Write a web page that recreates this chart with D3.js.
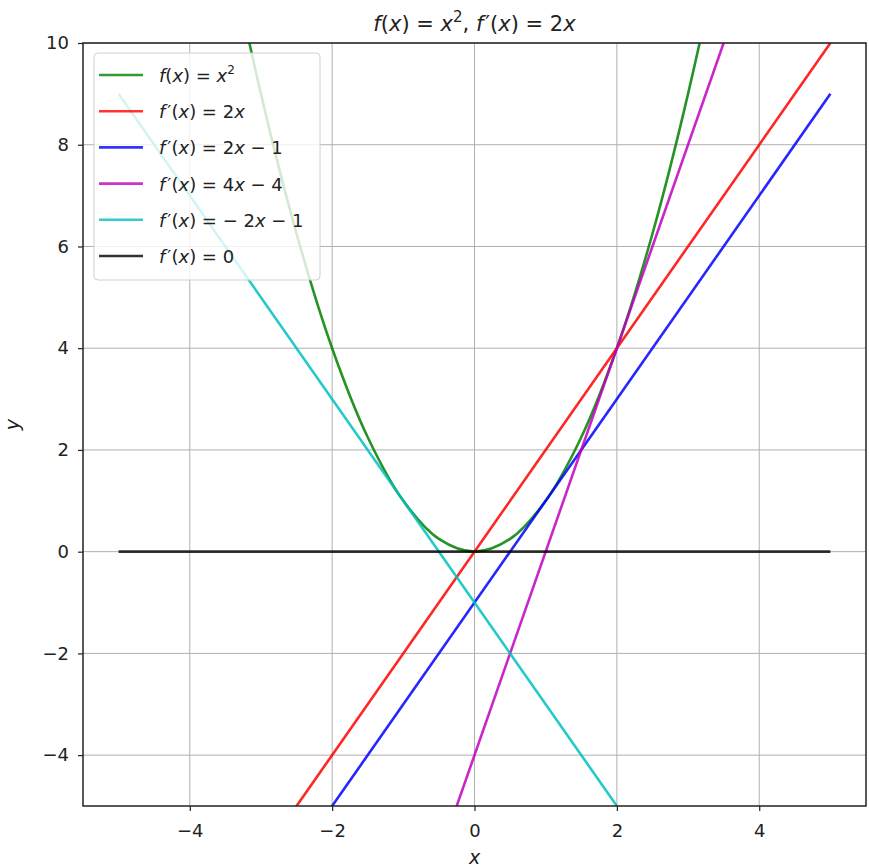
<!DOCTYPE html>
<html>
<head>
<meta charset="utf-8">
<script src="https://cdn.jsdelivr.net/npm/d3@7"></script>
<style>
  body { margin: 0; background: #fff; }
  text { font-family: "DejaVu Sans", sans-serif; }
</style>
</head>
<body>
<div id="chart"></div>
<script>
let svgWidth = 869;
let svgHeight = 868;

let margin = { top: 43, right: 3, bottom: 62, left: 83 };
let width = svgWidth - margin.left - margin.right;
let height = svgHeight - margin.top - margin.bottom;

// data
let parabolaX = [-5, -4.5, -4, -3.5, -3, -2.5, -2, -1.5, -1, -0.5, 0, 0.5, 1, 1.5, 2, 2.5, 3, 3.5, 4, 4.5, 5];
let parabolaY = [25, 20.25, 16, 12.25, 9, 6.25, 4, 2.25, 1, 0.25, 0, 0.25, 1, 2.25, 4, 6.25, 9, 12.25, 16, 20.25, 25];
let lineX = [-5, 5];
let redY = [-10, 10];
let blueY = [-11, 9];
let magentaY = [-24, 16];
let cyanY = [9, -11];
let blackY = [0, 0];

let xTicks = [-4, -2, 0, 2, 4];
let yTicks = [-4, -2, 0, 2, 4, 6, 8, 10];

// label parts: [text, italic, superscript, prime]
let legendLabels = [
  [["f", 1], ["(", 0], ["x", 1], [") = ", 0], ["x", 1], ["2", 0, 1]],
  [["f", 1], ["′", 0, 0, 1], ["(", 0], ["x", 1], [") = 2", 0], ["x", 1]],
  [["f", 1], ["′", 0, 0, 1], ["(", 0], ["x", 1], [") = 2", 0], ["x", 1], [" − 1", 0]],
  [["f", 1], ["′", 0, 0, 1], ["(", 0], ["x", 1], [") = 4", 0], ["x", 1], [" − 4", 0]],
  [["f", 1], ["′", 0, 0, 1], ["(", 0], ["x", 1], [") = − 2", 0], ["x", 1], [" − 1", 0]],
  [["f", 1], ["′", 0, 0, 1], ["(", 0], ["x", 1], [") = 0", 0]]
];
let titleParts = [["f", 1], ["(", 0], ["x", 1], [") = ", 0], ["x", 1], ["2", 0, 1], [", ", 0, 0, 0, 1],
  ["f", 1], ["′", 0, 0, 1], ["(", 0], ["x", 1], [") = 2", 0], ["x", 1]];
let colors = ["#008000", "#ff0000", "#0000ff", "#bf00bf", "#00bfbf", "#000000"];

let series = [
  { xs: parabolaX, ys: parabolaY },
  { xs: lineX, ys: redY },
  { xs: lineX, ys: blueY },
  { xs: lineX, ys: magentaY },
  { xs: lineX, ys: cyanY },
  { xs: lineX, ys: blackY }
];

let svg = d3.select("#chart")
  .append("svg")
  .attr("width", svgWidth)
  .attr("height", svgHeight);

let chartGroup = svg.append("g")
  .attr("transform", `translate(${margin.left}, ${margin.top})`);

let xScale = d3.scaleLinear().domain([-5.5, 5.5]).range([0, width]);
let yScale = d3.scaleLinear().domain([-5, 10]).range([height, 0]);

// grid
chartGroup.append("g")
  .selectAll("line")
  .data(xTicks)
  .enter()
  .append("line")
  .attr("x1", d => xScale(d)).attr("x2", d => xScale(d))
  .attr("y1", 0).attr("y2", height)
  .attr("stroke", "#b0b0b0").attr("stroke-width", 1);

chartGroup.append("g")
  .selectAll("line")
  .data(yTicks)
  .enter()
  .append("line")
  .attr("x1", 0).attr("x2", width)
  .attr("y1", d => yScale(d)).attr("y2", d => yScale(d))
  .attr("stroke", "#b0b0b0").attr("stroke-width", 1);

// clip
chartGroup.append("clipPath").attr("id", "clip")
  .append("rect").attr("width", width).attr("height", height);

let line = d3.line()
  .x(d => xScale(d[0]))
  .y(d => yScale(d[1]))
  .curve(d3.curveCatmullRom);

let plotGroup = chartGroup.append("g").attr("clip-path", "url(#clip)");
series.forEach(function(s, i) {
  plotGroup.append("path")
    .datum(s.xs.map((x, j) => [x, s.ys[j]]))
    .attr("d", line)
    .attr("fill", "none")
    .attr("stroke", colors[i])
    .attr("stroke-opacity", i === 5 ? 0.8 : 0.85)
    .attr("stroke-width", 2.6);
});

// axes
let bottomAxis = d3.axisBottom(xScale).tickValues(xTicks).tickSize(5).tickPadding(13)
  .tickFormat(d => d < 0 ? "−" + Math.abs(d) : d);
let leftAxis = d3.axisLeft(yScale).tickValues(yTicks).tickSize(5).tickPadding(9)
  .tickFormat(d => d < 0 ? "−" + Math.abs(d) : d);

let gx = chartGroup.append("g")
  .attr("transform", `translate(0, ${height})`)
  .call(bottomAxis);
let gy = chartGroup.append("g").call(leftAxis);

[gx, gy].forEach(function(g) {
  g.select(".domain").remove();
  g.selectAll("line").attr("stroke", "#222").attr("stroke-width", 1.2);
  g.selectAll("text").attr("font-size", 18).attr("fill", "#222")
    .style("font-family", "DejaVu Sans, sans-serif");
});

// frame
chartGroup.append("rect")
  .attr("width", width).attr("height", height)
  .attr("fill", "none").attr("stroke", "#222").attr("stroke-width", 1.5);

function addParts(t, parts, supSize, supShift) {
  parts.forEach(function(p) {
    let ts = t.append("tspan").text(p[0]);
    if (p[1]) ts.attr("font-style", "italic");
    if (p[2]) ts.attr("font-size", supSize).attr("dy", -supShift);
    if (p[3]) ts.attr("dx", 2);
    if (p[4]) ts.attr("dy", supShift);
  });
}

// legend
let legend = chartGroup.append("g").attr("transform", "translate(11, 10)");
legend.append("rect")
  .attr("width", 226).attr("height", 227).attr("rx", 4)
  .attr("fill", "#fff").attr("fill-opacity", 0.8)
  .attr("stroke", "#d0d0d0").attr("stroke-width", 1);

legendLabels.forEach(function(parts, i) {
  let yPos = 22 + i * 36.2;
  legend.append("line")
    .attr("x1", 5).attr("x2", 49)
    .attr("y1", yPos).attr("y2", yPos)
    .attr("stroke", colors[i])
    .attr("stroke-opacity", 0.8)
    .attr("stroke-width", 2.6);
  let t = legend.append("text")
    .attr("x", 65).attr("y", yPos + 7)
    .attr("font-size", 18).attr("fill", "#222");
  addParts(t, parts, 12, 8);
});

// title
let title = svg.append("text")
  .attr("x", margin.left + width / 2)
  .attr("y", 31)
  .attr("text-anchor", "middle")
  .attr("font-size", 21).attr("fill", "#222");
addParts(title, titleParts, 15, 9);

// axis labels
svg.append("text")
  .attr("x", margin.left + width / 2)
  .attr("y", 864)
  .attr("text-anchor", "middle")
  .attr("font-size", 19).attr("font-style", "italic").attr("fill", "#222")
  .text("x");

svg.append("text")
  .attr("transform", `translate(19, ${margin.top + height / 2}) rotate(-90)`)
  .attr("text-anchor", "middle")
  .attr("font-size", 19).attr("font-style", "italic").attr("fill", "#222")
  .text("y");
</script>
</body>
</html>
